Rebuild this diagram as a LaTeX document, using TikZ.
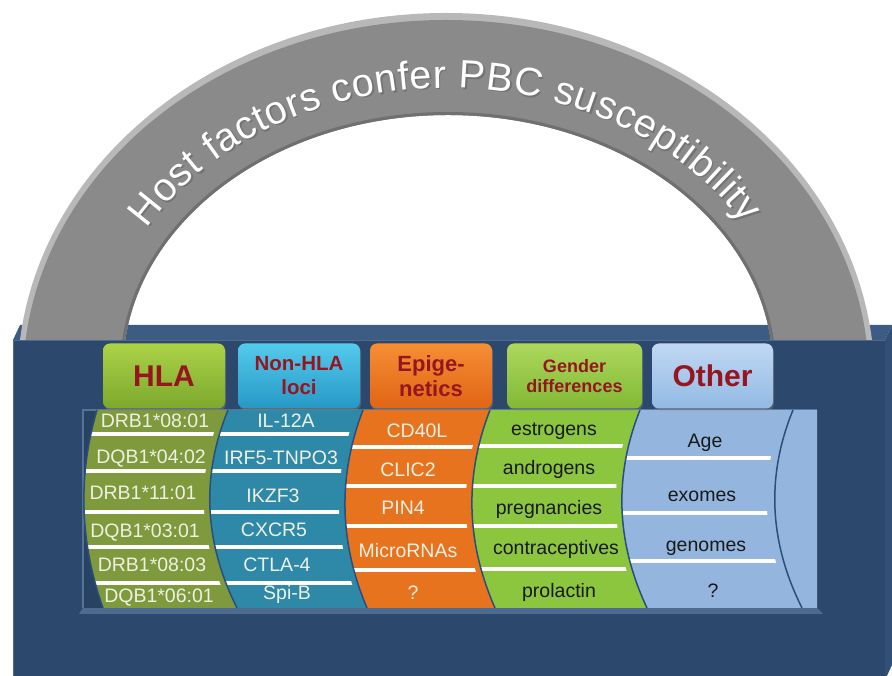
\documentclass[tikz,border=0pt]{standalone}
\usepackage{fontspec}
\setmainfont{Liberation Sans}
\usetikzlibrary{decorations.text,shadows,calc}

\definecolor{boxfront}{RGB}{44,72,108}
\definecolor{boxtop}{RGB}{60,92,132}
\definecolor{boxside}{RGB}{50,80,118}
\definecolor{panelbg}{RGB}{40,66,100}
\definecolor{paneledge}{RGB}{88,114,150}
\definecolor{bevel}{RGB}{78,106,142}
\definecolor{archrim}{RGB}{184,184,184}
\definecolor{archgray}{RGB}{138,138,138}
\definecolor{archshade}{RGB}{112,112,112}
\definecolor{hlacol}{RGB}{127,154,60}
\definecolor{nhlacol}{RGB}{46,137,168}
\definecolor{epicol}{RGB}{232,115,30}
\definecolor{gencol}{RGB}{140,198,63}
\definecolor{othcol}{RGB}{148,182,222}
\definecolor{bndcol}{RGB}{42,78,125}
\definecolor{hdrred}{RGB}{150,22,32}
\definecolor{celllight}{RGB}{238,240,228}
\definecolor{celldark}{RGB}{25,25,25}
\definecolor{hlaT}{RGB}{172,210,72}
\definecolor{hlaB}{RGB}{124,168,44}
\definecolor{nhlaT}{RGB}{84,202,236}
\definecolor{nhlaB}{RGB}{38,152,198}
\definecolor{epiT}{RGB}{246,142,52}
\definecolor{epiB}{RGB}{224,100,20}
\definecolor{genT}{RGB}{172,216,92}
\definecolor{genB}{RGB}{130,184,54}
\definecolor{othT}{RGB}{192,216,242}
\definecolor{othB}{RGB}{146,186,228}

\newcommand\cvdn[4]{(#1,266) .. controls (#2,200) and (#3,134) .. (#4,68)}
\newcommand\cvup[4]{(#4,68) .. controls (#3,134) and (#2,200) .. (#1,266)}

\begin{document}
\begin{tikzpicture}[x=1pt,y=1pt,
  hdr/.style={rounded corners=7pt, minimum height=65, inner sep=0pt,
    text=hdrred, align=center,
    drop shadow={shadow xshift=1pt,shadow yshift=-2pt,opacity=0.45}},
  cellW/.style={anchor=base, inner sep=0pt, text=celllight, font=\fontsize{19.5}{22}\selectfont},
  cellD/.style={anchor=base, inner sep=0pt, text=celldark, font=\fontsize{19.5}{22}\selectfont},
  sep/.style={draw=white, line width=3.5pt},
  bnd/.style={draw=bndcol, line width=1.5pt}]
\useasboundingbox (0,0) rectangle (892,676);

% box: top and side faces (behind the arch)
\fill[boxtop] (13,336) -- (20,351) -- (892,351) -- (885,336) -- cycle;
\fill[boxside] (885,336) -- (892,351) -- (892,11) -- (885,-4) -- cycle;

% arch
\fill[archrim, even odd rule] (446,296) ellipse [x radius=428.5, y radius=367]
  (448,306) ellipse [x radius=325, y radius=255];
\fill[archgray, even odd rule] (446,296) ellipse [x radius=423, y radius=360]
  (448,306) ellipse [x radius=325, y radius=255];
\draw[archshade, line width=3pt] (448,306) ellipse [x radius=326.5, y radius=256.5];

% arch text
\path[decorate, xshift=1.5pt, yshift=-1.5pt,
  decoration={text along path, text align={fit to path}, text color=black!55,
  text={|\fontsize{39.5}{42}\selectfont|Host factors confer PBC susceptibility}}]
  ($(447,298)+(149:350 and 290)$) arc[start angle=149, end angle=32, x radius=350, y radius=290];
\path[decorate,
  decoration={text along path, text align={fit to path}, text color=white,
  text={|\fontsize{39.5}{42}\selectfont|Host factors confer PBC susceptibility}}]
  ($(447,298)+(149:350 and 290)$) arc[start angle=149, end angle=32, x radius=350, y radius=290];

% box front face
\fill[boxfront] (13,-5) rectangle (885,336);
\draw[bevel, line width=1pt] (13.5,-5) -- (13.5,335.5) -- (885,335.5);

% inner panel
\fill[bevel] (79,62) -- (823,62) -- (817,68) -- (83,68) -- cycle;
\fill[panelbg] (83,68) rectangle (817,266);
\draw[paneledge, line width=1.5pt] (83,68) -- (83,266) -- (817,266);

% columns
\fill[othcol] \cvdn{640}{613.7}{616}{647} -- (817,68) -- (817,266) -- cycle;
\fill[gencol] \cvdn{490}{464.3}{466}{495} -- \cvup{640}{613.7}{616}{647} -- cycle;
\fill[epicol] \cvdn{363}{337.7}{339}{367} -- \cvup{490}{464.3}{466}{495} -- cycle;
\fill[nhlacol] \cvdn{228}{201}{204}{237} -- \cvup{363}{337.7}{339}{367} -- cycle;
\fill[hlacol] \cvdn{97}{77.7}{79.7}{103} -- \cvup{228}{201}{204}{237} -- cycle;

% separators
\begin{scope}
  \clip \cvdn{97}{77.7}{79.7}{103} -- \cvup{228}{201}{204}{237} -- cycle;
  \clip[xshift=-6pt] \cvdn{97}{77.7}{79.7}{103} -- \cvup{228}{201}{204}{237} -- cycle;
  \foreach \yy in {242,205,164,129,93} \draw[sep] (0,\yy) -- (892,\yy);
\end{scope}
\begin{scope}
  \clip \cvdn{228}{201}{204}{237} -- \cvup{363}{337.7}{339}{367} -- cycle;
  \clip[xshift=-6pt] \cvdn{228}{201}{204}{237} -- \cvup{363}{337.7}{339}{367} -- cycle;
  \foreach \yy in {242,205,164,129,93} \draw[sep] (0,\yy) -- (892,\yy);
\end{scope}
\begin{scope}
  \clip \cvdn{363}{337.7}{339}{367} -- \cvup{490}{464.3}{466}{495} -- cycle;
  \clip[xshift=-6pt] \cvdn{363}{337.7}{339}{367} -- \cvup{490}{464.3}{466}{495} -- cycle;
  \foreach \yy in {229,190,150,106} \draw[sep] (0,\yy) -- (892,\yy);
\end{scope}
\begin{scope}
  \clip \cvdn{490}{464.3}{466}{495} -- \cvup{640}{613.7}{616}{647} -- cycle;
  \clip[xshift=-6pt] \cvdn{490}{464.3}{466}{495} -- \cvup{640}{613.7}{616}{647} -- cycle;
  \foreach \yy in {230,190,150,107} \draw[sep] (0,\yy) -- (892,\yy);
\end{scope}
\begin{scope}
  \clip \cvdn{640}{613.7}{616}{647} -- \cvup{793}{766}{769}{802} -- cycle;
  \clip[xshift=-8pt] \cvdn{640}{613.7}{616}{647} -- \cvup{793}{766}{769}{802} -- cycle;
  \foreach \yy in {218,163,115} \draw[sep] (0,\yy) -- (892,\yy);
\end{scope}

% boundary curves
\draw[bnd] \cvdn{97}{77.7}{79.7}{103};
\draw[bnd] \cvdn{228}{201}{204}{237};
\draw[bnd] \cvdn{363}{337.7}{339}{367};
\draw[bnd] \cvdn{490}{464.3}{466}{495};
\draw[bnd] \cvdn{640}{613.7}{616}{647};
\draw[bnd] \cvdn{793}{766}{769}{802};

% HLA cells
\node[cellW] (h1) at (155,248) {DRB1*08:01};
\node[cellW] (h2) at (151,212) {DQB1*04:02};
\node[cellW] (h3) at (143,176) {DRB1*11:01};
\node[cellW] (h4) at (145,138) {DQB1*03:01};
\node[cellW] (h5) at (152,104) {DRB1*08:03};
\node[cellW] (h6) at (159,73) {DQB1*06:01};
% Non-HLA cells
\node[cellW] (n1) at (286,248) {IL-12A};
\node[cellW] (n2) at (281,211) {IRF5-TNPO3};
\node[cellW] (n3) at (273,173) {IKZF3};
\node[cellW] (n4) at (274,139) {CXCR5};
\node[cellW] (n5) at (277,104) {CTLA-4};
\node[cellW] (n6) at (287,76) {Spi-B};
% Epigenetics cells
\node[cellW] (e1) at (417,238) {CD40L};
\node[cellW] (e2) at (408,199) {CLIC2};
\node[cellW] (e3) at (403,161) {PIN4};
\node[cellW] (e4) at (408,118) {MicroRNAs};
\node[cellW] (e5) at (413,76) {?};
% Gender cells
\node[cellD] (g1) at (554,240) {estrogens};
\node[cellD] (g2) at (549,201) {androgens};
\node[cellD] (g3) at (549,161) {pregnancies};
\node[cellD] (g4) at (556,121) {contraceptives};
\node[cellD] (g5) at (559,78) {prolactin};
% Other cells
\node[cellD] (o1) at (705,228) {Age};
\node[cellD] (o2) at (702,174) {exomes};
\node[cellD] (o3) at (706,124) {genomes};
\node[cellD] (o4) at (713,78) {?};

% headers
\node[hdr, minimum width=122, top color=hlaT, bottom color=hlaB,
  font=\bfseries\fontsize{30}{32}\selectfont] (hla) at (164,300) {HLA};
\node[hdr, minimum width=122, top color=nhlaT, bottom color=nhlaB,
  font=\bfseries\fontsize{20.5}{24}\selectfont] (nhla) at (299,300) {Non-HLA\\loci};
\node[hdr, minimum width=122, top color=epiT, bottom color=epiB,
  font=\bfseries\fontsize{22}{25}\selectfont] (epi) at (431,300) {Epige-\\netics};
\node[hdr, minimum width=135, top color=genT, bottom color=genB,
  font=\bfseries\fontsize{18}{20}\selectfont] (gen) at (574.5,300) {Gender\\differences};
\node[hdr, minimum width=121, top color=othT, bottom color=othB,
  font=\bfseries\fontsize{30}{32}\selectfont] (oth) at (712.5,300) {Other};
\end{tikzpicture}
\end{document}
